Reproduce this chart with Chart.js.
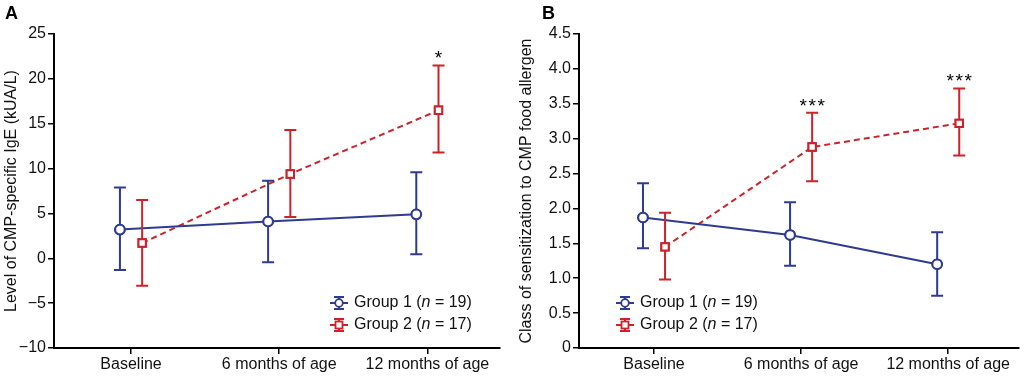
<!DOCTYPE html>
<html>
<head>
<meta charset="utf-8">
<script src="https://cdn.jsdelivr.net/npm/chart.js@4"></script>
<style>
  html, body { margin: 0; padding: 0; background: #fff; }
  #wrap { display: flex; width: 1026px; height: 378px; }
  canvas { display: block; }
</style>
</head>
<body>
<div id="wrap">
  <canvas id="cA" width="513" height="378"></canvas>
  <canvas id="cB" width="513" height="378"></canvas>
</div>
<script>
// ---- data ----
const categories = ['Baseline', '6 months of age', '12 months of age'];
const seriesNames = ['Group 1', 'Group 2'];
const seriesN = [19, 17];

// Panel A: level of CMP-specific IgE (kUA/L)
const aG1Mean = [3.2, 4.1, 4.9];
const aG1Low  = [-1.3, -0.45, 0.45];
const aG1High = [7.9, 8.65, 9.6];
const aG2Mean = [1.7, 9.4, 16.5];
const aG2Low  = [-3.05, 4.6, 11.8];
const aG2High = [6.5, 14.3, 21.5];
const aSig    = ['', '', '*'];
const aTicks  = [-10, -5, 0, 5, 10, 15, 20, 25];

// Panel B: class of sensitization to CMP food allergen
const bG1Mean = [1.87, 1.62, 1.20];
const bG1Low  = [1.43, 1.18, 0.75];
const bG1High = [2.36, 2.09, 1.66];
const bG2Mean = [1.45, 2.88, 3.22];
const bG2Low  = [0.98, 2.39, 2.76];
const bG2High = [1.94, 3.37, 3.72];
const bSig    = ['', '***', '***'];
const bTicks  = [0, 0.5, 1.0, 1.5, 2.0, 2.5, 3.0, 3.5, 4.0, 4.5];

// ---- styles ----
const FONT = '"Liberation Sans", Arial, Helvetica, sans-serif';
const BLUE = '#2e3b8e';
const RED = '#cc2229';
const OFFSET = 0.075;

function pts(means, shift) {
  return means.map((m, i) => ({ x: i + shift, y: m }));
}

const errorBarPlugin = {
  id: 'errorBars',
  afterDatasetsDraw(chart, args, opts) {
    const ctx = chart.ctx;
    const xs = chart.scales.x, ys = chart.scales.y;
    chart.data.datasets.forEach((ds, di) => {
      const meta = chart.getDatasetMeta(di);
      ctx.save();
      ctx.strokeStyle = ds.borderColor;
      ctx.lineWidth = 2;
      ds.data.forEach((p, i) => {
        const x = xs.getPixelForValue(p.x);
        const yl = ys.getPixelForValue(ds.low[i]);
        const yh = ys.getPixelForValue(ds.high[i]);
        ctx.beginPath();
        ctx.moveTo(x, yl); ctx.lineTo(x, yh);
        ctx.moveTo(x - 6, yl); ctx.lineTo(x + 6, yl);
        ctx.moveTo(x - 6, yh); ctx.lineTo(x + 6, yh);
        ctx.stroke();
      });
      ctx.restore();
      meta.data.forEach(el => el.draw(ctx, chart.chartArea));
    });
    // significance marks (asterisks drawn one by one, slightly spaced)
    const sigDs = chart.data.datasets[1];
    ctx.save();
    ctx.fillStyle = '#000';
    ctx.font = '19px ' + FONT;
    ctx.textAlign = 'center';
    ctx.textBaseline = 'alphabetic';
    opts.sig.forEach((s, i) => {
      if (!s) return;
      const x = xs.getPixelForValue(sigDs.data[i].x);
      const y = ys.getPixelForValue(sigDs.high[i]) - 1;
      const step = 9;
      const n = s.length;
      for (let k = 0; k < n; k++) {
        ctx.fillText(s[k], x + (k - (n - 1) / 2) * step, y);
      }
    });
    ctx.restore();
    // panel letter
    ctx.save();
    ctx.fillStyle = '#000';
    ctx.font = 'bold 18px ' + FONT;
    ctx.textAlign = 'left';
    ctx.textBaseline = 'alphabetic';
    ctx.fillText(opts.letter, opts.letterX, 19);
    ctx.restore();
    // legend
    chart.data.datasets.forEach((ds, di) => {
      const lx = opts.legendX, ly = opts.legendY + di * 22;
      ctx.save();
      ctx.strokeStyle = ds.borderColor;
      ctx.lineWidth = 2;
      ctx.beginPath();
      ctx.moveTo(lx, ly); ctx.lineTo(lx + 18, ly);
      ctx.moveTo(lx + 9, ly - 6); ctx.lineTo(lx + 9, ly + 6);
      ctx.moveTo(lx + 4, ly - 6); ctx.lineTo(lx + 14, ly - 6);
      ctx.moveTo(lx + 4, ly + 6); ctx.lineTo(lx + 14, ly + 6);
      ctx.stroke();
      ctx.fillStyle = '#fff';
      ctx.lineWidth = 1.8;
      if (ds.pointStyle === 'circle') {
        ctx.beginPath(); ctx.arc(lx + 9, ly, 3.8, 0, Math.PI * 2); ctx.fill(); ctx.stroke();
      } else {
        ctx.fillRect(lx + 5.5, ly - 3.5, 7, 7); ctx.strokeRect(lx + 5.5, ly - 3.5, 7, 7);
      }
      ctx.fillStyle = '#111';
      ctx.textBaseline = 'middle';
      ctx.textAlign = 'left';
      let tx = lx + 24;
      const parts = [
        [seriesNames[di] + ' (', '16px ' + FONT],
        ['n', 'italic 16px ' + FONT],
        [' = ' + seriesN[di] + ')', '16px ' + FONT]
      ];
      parts.forEach(([t, f]) => {
        ctx.font = f;
        ctx.fillText(t, tx, ly);
        tx += ctx.measureText(t).width;
      });
      ctx.restore();
    });
  }
};

function makeChart(id, cfg) {
  return new Chart(document.getElementById(id), {
    type: 'scatter',
    data: {
      datasets: [
        {
          label: seriesNames[0],
          data: pts(cfg.g1Mean, -OFFSET),
          low: cfg.g1Low, high: cfg.g1High,
          showLine: true,
          borderColor: BLUE, backgroundColor: '#fff',
          borderWidth: 2,
          pointStyle: 'circle', pointRadius: 4.8,
          pointBorderWidth: 2, pointBorderColor: BLUE, pointBackgroundColor: '#fff'
        },
        {
          label: seriesNames[1],
          data: pts(cfg.g2Mean, OFFSET),
          low: cfg.g2Low, high: cfg.g2High,
          showLine: true,
          borderColor: RED, backgroundColor: '#fff',
          borderWidth: 2, borderDash: [6, 4],
          pointStyle: 'rect', pointRadius: 5.2,
          pointBorderWidth: 2, pointBorderColor: RED, pointBackgroundColor: '#fff'
        }
      ]
    },
    options: {
      responsive: false,
      animation: false,
      events: [],
      layout: { padding: cfg.padding },
      plugins: {
        legend: { display: false },
        tooltip: { enabled: false },
        errorBars: cfg.plugin
      },
      scales: {
        x: {
          type: 'linear', min: cfg.xMin, max: cfg.xMax,
          afterBuildTicks(s) { s.ticks = categories.map((c, i) => ({ value: i })); },
          afterFit(s) { s.height = 30; },
          border: { color: '#000', width: 2 },
          grid: { drawOnChartArea: false, drawTicks: true, tickLength: 6, color: '#000', lineWidth: 1.5 },
          ticks: {
            color: '#111', padding: 1,
            font: { family: FONT, size: 16 },
            maxRotation: 0,
            callback: v => categories[v] !== undefined ? categories[v] : ''
          }
        },
        y: {
          type: 'linear', min: cfg.yMin, max: cfg.yMax,
          afterBuildTicks(s) { s.ticks = cfg.yTicks.map(v => ({ value: v })); },
          afterFit(s) { s.width = cfg.yWidth; },
          border: { color: '#000', width: 2 },
          grid: { drawOnChartArea: false, drawTicks: true, tickLength: 6, color: '#000', lineWidth: 1.5 },
          title: {
            display: true, text: cfg.yTitle, color: '#111',
            font: { family: FONT, size: 16 },
            padding: { top: cfg.titlePad, bottom: 0 }
          },
          ticks: {
            color: '#111', padding: 2,
            font: { family: FONT, size: 16 },
            callback: cfg.yFmt
          }
        }
      }
    },
    plugins: [errorBarPlugin]
  });
}

makeChart('cA', {
  g1Mean: aG1Mean, g1Low: aG1Low, g1High: aG1High,
  g2Mean: aG2Mean, g2Low: aG2Low, g2High: aG2High,
  xMin: -0.52, xMax: 2.49,
  yMin: -10, yMax: 25, yTicks: aTicks,
  yFmt: v => String(v).replace('-', '\u2212'),
  yTitle: 'Level of CMP-specific IgE (kUA/L)',
  yWidth: 54, titlePad: 2,
  padding: { top: 34, right: 13, bottom: 0, left: 0 },
  plugin: { sig: aSig, letter: 'A', letterX: 5, legendX: 330, legendY: 303 }
});

makeChart('cB', {
  g1Mean: bG1Mean, g1Low: bG1Low, g1High: bG1High,
  g2Mean: bG2Mean, g2Low: bG2Low, g2High: bG2High,
  xMin: -0.51, xMax: 2.48,
  yMin: 0, yMax: 4.5, yTicks: bTicks,
  yFmt: v => v === 0 ? '0' : v.toFixed(1),
  yTitle: 'Class of sensitization to CMP food allergen',
  yWidth: 66, titlePad: 4,
  padding: { top: 34, right: 4, bottom: 0, left: 0 },
  plugin: { sig: bSig, letter: 'B', letterX: 29, legendX: 103, legendY: 303 }
});
</script>
</body>
</html>
